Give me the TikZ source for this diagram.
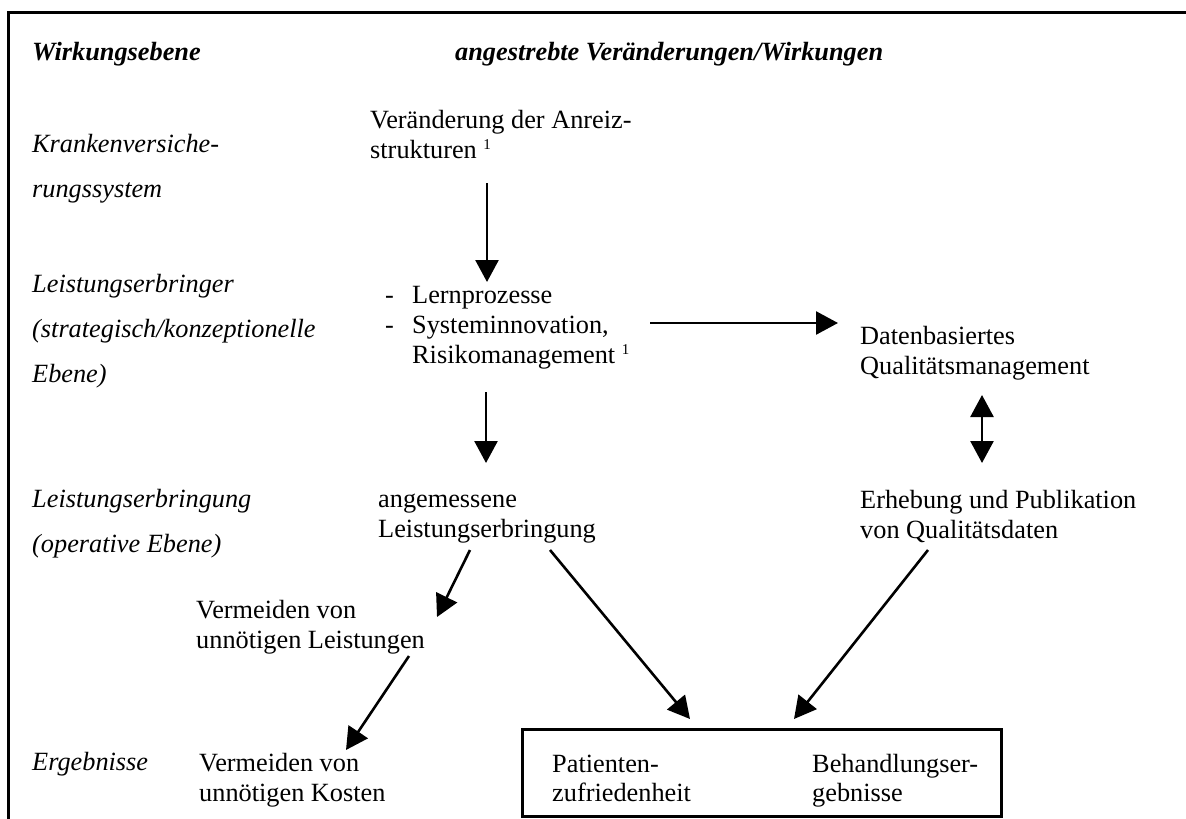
\documentclass[tikz,border=0pt]{standalone}
\usepackage{fontspec}
\setmainfont{Liberation Serif}
\usetikzlibrary{arrows.meta}
\newcommand\lnblock[2]{\fontsize{26.3}{#1}\selectfont\begin{tabular}[t]{@{}l@{}}#2\end{tabular}}
\newcommand\myfn{\raisebox{9pt}{\fontsize{15}{15}\selectfont 1}}
\tikzset{
  txt/.style={anchor=base west, inner sep=0pt, font=\fontsize{26.3}{30.3}\selectfont},
  lvl/.style={txt, font=\fontsize{26.3}{30.3}\selectfont\itshape},
  head/.style={txt, font=\fontsize{26.3}{30.3}\selectfont\bfseries\itshape},
  arr/.style={line width=2.6pt, >={Triangle[length=22pt,width=23pt]}, ->},
  darr/.style={line width=2.6pt, >={Triangle[length=22pt,width=23pt]}, <->},
  frame/.style={line width=3pt},
  resbox/.style={draw, line width=3pt, inner sep=0pt, minimum width=479pt, minimum height=87pt, anchor=north west}
}
\begin{document}
\begin{tikzpicture}[x=1pt,y=-1pt]
\useasboundingbox (0,0) rectangle (1186,819);
\fill[white] (0,0) rectangle (1186,819);
% frame (top and left rules of the table)
\coordinate (fTL) at (8,12.5);
\coordinate (fTR) at (1190,12.5);
\coordinate (fBL) at (8,823);
\draw[frame] (fTR) -- (fTL) -- (fBL);
% headers
\node[head] (h1) at (32,60) {Wirkungsebene};
\node[head] (h2) at (455,60) {angestrebte Veränderungen/Wirkungen};
% level labels
\node[lvl] (l1) at (32,152) {\itshape\lnblock{45}{Krankenversiche-\\rungssystem}};
\node[lvl] (l2) at (32,292) {\itshape\lnblock{45}{Leistungserbringer\\(strategisch/konzeptionelle\\Ebene)}};
\node[lvl] (l3) at (32,507) {\itshape\lnblock{45}{Leistungserbringung\\(operative Ebene)}};
\node[lvl] (l4) at (32,770) {Ergebnisse};
% content
\node[txt] (anreiz) at (370,128) {\lnblock{30}{Veränderung der Anreiz-\\strukturen \myfn}};
\node[txt] (lern) at (385,303) {\lnblock{30}{\makebox[27pt][l]{-}Lernprozesse\\\makebox[27pt][l]{-}Systeminnovation,\\\hspace*{27pt}Risikomanagement \myfn}};
\node[txt] (daten) at (860,344) {\lnblock{30}{Datenbasiertes\\Qualitätsmanagement}};
\node[txt] (angem) at (378,507) {\lnblock{30}{angemessene\\Leistungserbringung}};
\node[txt] (erheb) at (860,508) {\lnblock{30}{Erhebung und Publikation\\von Qualitätsdaten}};
\node[txt] (vleist) at (196,618) {\lnblock{30}{Vermeiden von\\unnötigen Leistungen}};
\node[txt] (vkost) at (199,771) {\lnblock{30}{Vermeiden von\\unnötigen Kosten}};
\node[resbox] (box) at (521,728) {};
\node[txt] (pat) at (552,772) {\lnblock{29}{Patienten-\\zufriedenheit}};
\node[txt] (beh) at (812,772) {\lnblock{29}{Behandlungser-\\gebnisse}};
% arrow end points
\coordinate (a1s) at (487,183); \coordinate (a1e) at (487,282);
\coordinate (a2s) at (650,323); \coordinate (a2e) at (838,323);
\coordinate (a3s) at (486,392); \coordinate (a3e) at (486,463);
\coordinate (a4s) at (982,395); \coordinate (a4e) at (982,463);
\coordinate (a5s) at (470,550); \coordinate (a5e) at (437,617);
\coordinate (a6s) at (409,656); \coordinate (a6e) at (346,750);
\coordinate (a7s) at (550,550); \coordinate (a7e) at (690,719);
\coordinate (a8s) at (928,550); \coordinate (a8e) at (794,719);
\draw[arr] (a1s) -- (a1e);
\draw[arr] (a2s) -- (a2e);
\draw[arr] (a3s) -- (a3e);
\draw[darr] (a4s) -- (a4e);
\draw[arr] (a5s) -- (a5e);
\draw[arr] (a6s) -- (a6e);
\draw[arr] (a7s) -- (a7e);
\draw[arr] (a8s) -- (a8e);
\end{tikzpicture}
\end{document}
